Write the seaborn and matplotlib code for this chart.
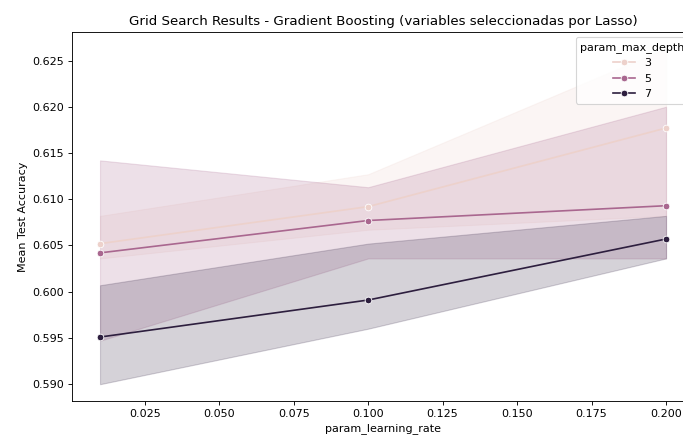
import matplotlib
matplotlib.use("Agg")
import matplotlib.pyplot as plt
import pandas as pd
import seaborn as sns

# Grid search settings
learning_rates = [0.01, 0.1, 0.2]
max_depths = [3, 5, 7]

# Test accuracy of the three runs for each (max_depth, learning_rate) pair
scores_depth_3 = [[0.6036, 0.6038, 0.6082], [0.6067, 0.6082, 0.6127], [0.6082, 0.6186, 0.6263]]
scores_depth_5 = [[0.5947, 0.6037, 0.6142], [0.6036, 0.6082, 0.6113], [0.6036, 0.6043, 0.6200]]
scores_depth_7 = [[0.5900, 0.5946, 0.6007], [0.5960, 0.5961, 0.6052], [0.6036, 0.6053, 0.6082]]

scores_by_depth = {3: scores_depth_3, 5: scores_depth_5, 7: scores_depth_7}

rows = []
for depth in max_depths:
    for lr, runs in zip(learning_rates, scores_by_depth[depth]):
        for s in runs:
            rows.append({"param_learning_rate": lr,
                         "param_max_depth": depth,
                         "mean_test_score": s})
results = pd.DataFrame(rows)

DPI = 80
fig = plt.figure(figsize=(683 / DPI, 436 / DPI), dpi=DPI)
ax = fig.add_axes([0.105, 0.0803, 0.9116, 0.847])

sns.lineplot(data=results, x="param_learning_rate", y="mean_test_score",
             hue="param_max_depth", marker="o", errorbar=("pi", 100), ax=ax)

ax.set_title("Grid Search Results - Gradient Boosting (variables seleccionadas por Lasso)")
ax.set_xlabel("param_learning_rate")
ax.set_ylabel("Mean Test Accuracy")
sns.move_legend(ax, "upper right", title="param_max_depth")

fig.savefig("out.png", dpi=DPI)
